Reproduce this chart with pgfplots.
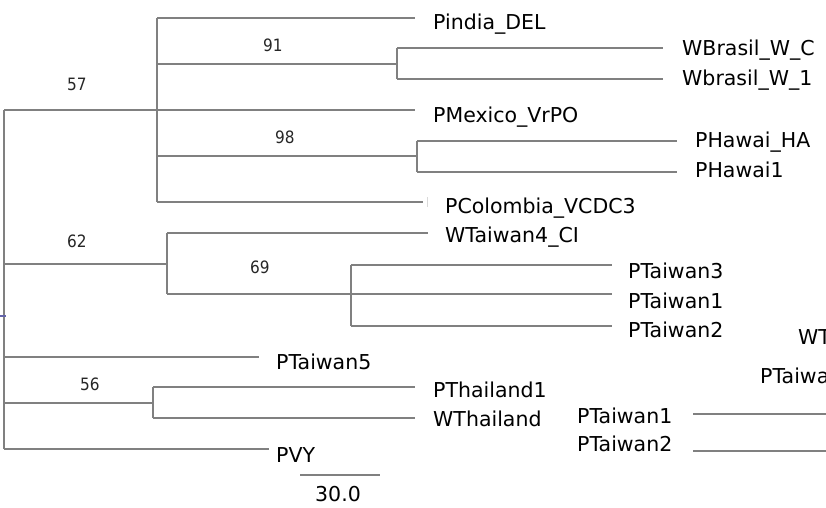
\documentclass[border=0pt]{standalone}
\usepackage{pgfplots}
\pgfplotsset{compat=1.18}
\usepackage{fontspec}
\setmainfont{DejaVu Sans}
\newfontfamily\numfont{DejaVu Sans Condensed}
\definecolor{tree}{RGB}{128,128,128}
\definecolor{rootm}{RGB}{100,100,170}
\begin{document}
\begin{tikzpicture}
\useasboundingbox (0,0) rectangle (826pt,507pt);
\clip (0,0) rectangle (826pt,507pt);
\begin{axis}[at={(0,0)}, anchor=south west, scale only axis,
  width=826pt, height=507pt, xmin=0, xmax=826, ymin=0, ymax=507,
  y dir=reverse, axis lines=none, clip=false, unbounded coords=jump]
% tree branches
\addplot[tree, line width=1.5pt, mark=none] coordinates {
 (4,110) (4,449) (nan,nan)
 (4,110) (157,110) (nan,nan)
 (157,18) (157,202) (nan,nan)
 (157,18) (415,18) (nan,nan)
 (157,64) (397,64) (nan,nan)
 (397,48) (397,79) (nan,nan)
 (397,48) (663,48) (nan,nan)
 (397,79) (663,79) (nan,nan)
 (157,110) (415,110) (nan,nan)
 (157,156) (417,156) (nan,nan)
 (417,141) (417,172) (nan,nan)
 (417,141) (677,141) (nan,nan)
 (417,172) (677,172) (nan,nan)
 (157,202) (423,202) (nan,nan)
 (4,264) (167,264) (nan,nan)
 (167,233) (167,294) (nan,nan)
 (167,233) (428,233) (nan,nan)
 (167,294) (351,294) (nan,nan)
 (351,265) (351,326) (nan,nan)
 (351,265) (612,265) (nan,nan)
 (351,294) (612,294) (nan,nan)
 (351,326) (612,326) (nan,nan)
 (4,357) (259,357) (nan,nan)
 (4,403) (153,403) (nan,nan)
 (153,387) (153,418) (nan,nan)
 (153,387) (415,387) (nan,nan)
 (153,418) (415,418) (nan,nan)
 (4,449) (269,449) (nan,nan)
 (300,475) (380,475) (nan,nan)
 (693,414) (826,414) (nan,nan)
 (693,451) (826,451)
};
\addplot[gray!30, line width=1pt, mark=none] coordinates {(427,197) (427,207)};
\addplot[rootm, line width=2.5pt, mark=none] coordinates {(0,316) (6,316)};
% leaf labels
\begin{scope}[every node/.style={anchor=base west, inner sep=0pt, font=\fontsize{20.5}{24}\selectfont, text=black}]
\node at (axis cs:433,29) {Pindia\_DEL};
\node at (axis cs:682,55) {WBrasil\_W\_C};
\node at (axis cs:682,85) {Wbrasil\_W\_1};
\node at (axis cs:433,122) {PMexico\_VrPO};
\node at (axis cs:695,147) {PHawai\_HA};
\node at (axis cs:695,177) {PHawai1};
\node at (axis cs:445,213) {PColombia\_VCDC3};
\node at (axis cs:445,242) {WTaiwan4\_CI};
\node at (axis cs:628,278) {PTaiwan3};
\node at (axis cs:628,308) {PTaiwan1};
\node at (axis cs:628,337) {PTaiwan2};
\node at (axis cs:276,369) {PTaiwan5};
\node at (axis cs:433,397) {PThailand1};
\node at (axis cs:433,426) {WThailand};
\node at (axis cs:276,462) {PVY};
\node at (axis cs:315,501) {30.0};
\node at (axis cs:798,344) {WTaiwan4\_CI};
\node at (axis cs:760,383) {PTaiwan3};
\node at (axis cs:577,423) {PTaiwan1};
\node at (axis cs:577,451) {PTaiwan2};
\end{scope}
% bootstrap values
\begin{scope}[every node/.style={anchor=base west, inner sep=0pt, font=\numfont\fontsize{17}{20}\selectfont, text=black!85}]
\node at (axis cs:67,90) {57};
\node at (axis cs:263,51) {91};
\node at (axis cs:275,143) {98};
\node at (axis cs:67,247) {62};
\node at (axis cs:250,273) {69};
\node at (axis cs:80,390) {56};
\end{scope}
\end{axis}
\end{tikzpicture}
\end{document}
